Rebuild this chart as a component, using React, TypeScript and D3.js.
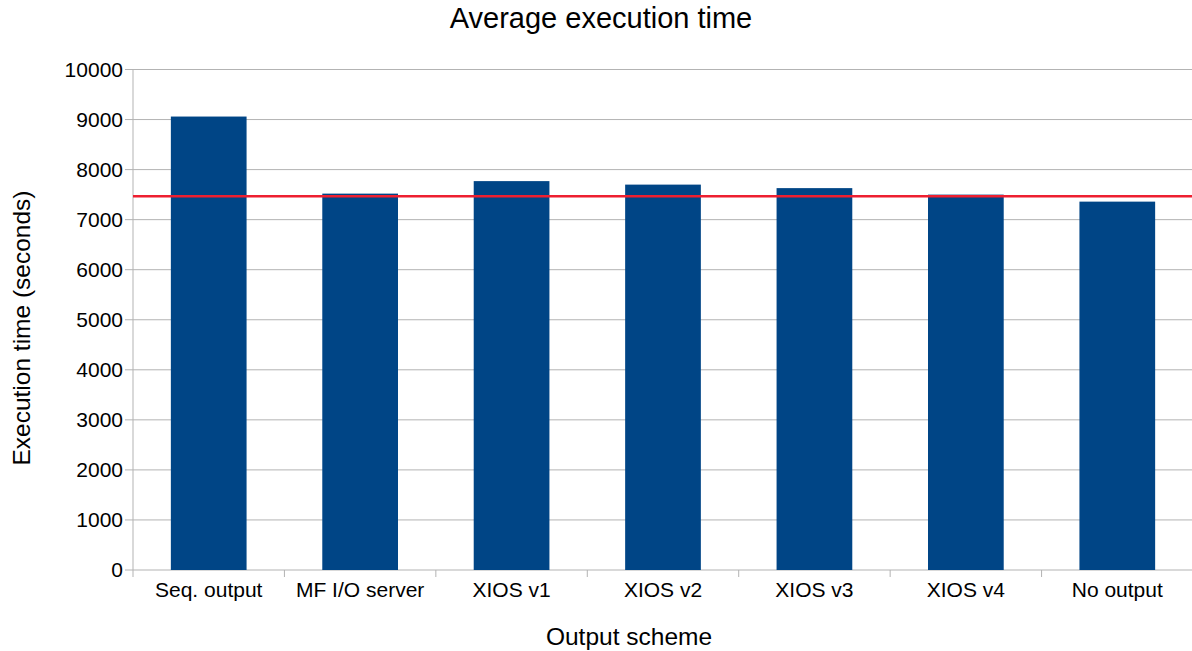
import React from "react";
import * as d3 from "d3";

const categories = ["Seq. output", "MF I/O server", "XIOS v1", "XIOS v2", "XIOS v3", "XIOS v4", "No output"];
const values = [9060, 7520, 7770, 7700, 7630, 7500, 7360];
const referenceValue = 7470;
const yTicks = [0, 1000, 2000, 3000, 4000, 5000, 6000, 7000, 8000, 9000, 10000];
const title = "Average execution time";
const xTitle = "Output scheme";
const yTitle = "Execution time (seconds)";

export default function App() {
  const W = 1192, H = 651;
  const left = 133, right = 1193, top = 69.5, bottom = 570;
  const x = d3.scaleBand<string>().domain(categories).range([left, right]).paddingInner(0.5).paddingOuter(0.25);
  const xb = d3.scaleBand<string>().domain(categories).range([left, right]);
  const y = d3.scaleLinear().domain([0, 10000]).range([bottom, top]);
  const font = "'Liberation Sans', Arial, sans-serif";
  const boundaries = [...categories.map((c) => xb(c)!), right];
  return (
    <svg width={W} height={H} style={{ position: "absolute", left: 0, top: 0, background: "#fff" }} fontFamily={font}>
      <rect x={0} y={0} width={W} height={H} fill="#fff" />
      {yTicks.map((t) => (
        <g key={t}>
          <line x1={left} x2={right} y1={y(t)} y2={y(t)} stroke="#b3b3b3" strokeWidth={1} />
          <line x1={left - 8} x2={left} y1={y(t)} y2={y(t)} stroke="#b3b3b3" strokeWidth={1} />
          <text x={left - 10} y={y(t)} dy="0.35em" textAnchor="end" fontSize={21} fill="#000">{t}</text>
        </g>
      ))}
      <line x1={left} x2={left} y1={top} y2={bottom} stroke="#b3b3b3" strokeWidth={1} />
      {boundaries.map((b, i) => (
        <line key={i} x1={b} x2={b} y1={bottom} y2={bottom + 7} stroke="#b3b3b3" strokeWidth={1} />
      ))}
      {categories.map((c, i) => (
        <rect key={c} x={x(c)} y={y(values[i])} width={x.bandwidth()} height={bottom - y(values[i])} fill="#004586" />
      ))}
      <line x1={left} x2={right} y1={y(referenceValue)} y2={y(referenceValue)} stroke="#ee1f30" strokeWidth={2.5} />
      {categories.map((c) => (
        <text key={c} x={xb(c)! + xb.bandwidth() / 2} y={597} textAnchor="middle" fontSize={21} fill="#000">{c}</text>
      ))}
      <text x={601} y={28} textAnchor="middle" fontSize={29} fill="#000">{title}</text>
      <text x={629} y={645} textAnchor="middle" fontSize={24.5} fill="#000">{xTitle}</text>
      <text transform={`translate(30,328) rotate(-90)`} textAnchor="middle" fontSize={24.5} fill="#000">{yTitle}</text>
    </svg>
  );
}
